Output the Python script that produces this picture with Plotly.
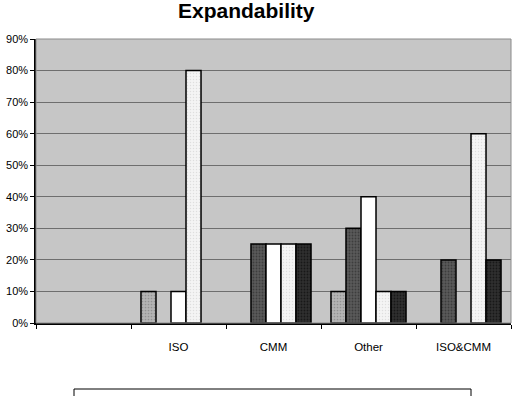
import plotly.graph_objects as go

categories = [" ", "ISO", "CMM", "Other", "ISO&CMM"]
series_names = ["Series 1", "Series 2", "Series 3", "Series 4", "Series 5"]
# None = no bar drawn (zero / empty)
s1 = [None, 0.10, None, 0.10, None]
s2 = [None, None, 0.25, 0.30, 0.20]
s3 = [None, 0.10, 0.25, 0.40, None]
s4 = [None, 0.80, 0.25, 0.10, 0.60]
s5 = [None, None, 0.25, 0.10, 0.20]
y_ticks = [0, 0.1, 0.2, 0.3, 0.4, 0.5, 0.6, 0.7, 0.8, 0.9]

styles = [
    dict(color="#b4b4b4", pattern=dict(shape=".", fgcolor="#707070", size=3, solidity=0.25)),
    dict(color="#5a5a5a", pattern=dict(shape=".", fgcolor="#202020", size=3, solidity=0.3)),
    dict(color="#ffffff"),
    dict(color="#f4f4f4", pattern=dict(shape=".", fgcolor="#c8c8c8", size=3, solidity=0.2)),
    dict(color="#303030", pattern=dict(shape=".", fgcolor="#000000", size=3, solidity=0.3)),
]

fig = go.Figure()
for name, vals, st in zip(series_names, [s1, s2, s3, s4, s5], styles):
    marker = dict(color=st["color"], line=dict(color="#000000", width=1.5))
    if "pattern" in st:
        marker["pattern"] = st["pattern"]
    fig.add_trace(go.Bar(x=categories, y=vals, name=name, marker=marker))

fig.update_layout(
    width=516, height=396,
    margin=dict(l=36, r=5, t=39, b=73),
    barmode="group", bargap=0.21, bargroupgap=0,
    plot_bgcolor="#c6c6c6", paper_bgcolor="#ffffff",
    showlegend=False,
    font=dict(family="Liberation Sans, Arial, sans-serif", color="#000000"),
    annotations=[dict(text="<b>Expandability</b>", xref="paper", yref="paper",
                      x=(246 - 36) / 475, y=(323 - 10.5) / 284,
                      xanchor="center", yanchor="middle",
                      showarrow=False, font=dict(size=21, color="#000000"))],
    shapes=[
        dict(type="rect", xref="paper", yref="paper", x0=0, x1=1, y0=0, y1=1,
             line=dict(color="#8a8a8a", width=1), layer="above"),
        dict(type="rect", xref="paper", yref="paper",
             x0=(74 - 36) / 475, x1=(471 - 36) / 475,
             y0=(323 - 400) / 284, y1=(323 - 389) / 284,
             line=dict(color="#000000", width=1)),
    ],
)
fig.update_xaxes(
    type="category", range=[-0.5, 4.5],
    showline=True, linecolor="#000000", linewidth=1.5,
    ticks="outside", tickson="boundaries", ticklen=4, tickcolor="#000000",
    ticklabelstandoff=12,
    tickfont=dict(size=11.5, family="Liberation Sans, Arial, sans-serif"),
    showgrid=False,
)
fig.update_yaxes(
    range=[0, 0.9], tickvals=y_ticks, tickformat=".0%",
    showline=True, linecolor="#000000", linewidth=1.5,
    ticks="outside", ticklen=4, tickcolor="#000000",
    tickfont=dict(size=11, family="Liberation Sans, Arial, sans-serif"),
    showgrid=True, gridcolor="#6e6e6e", gridwidth=1.2,
    zeroline=False,
)

fig.write_html("out.html")
